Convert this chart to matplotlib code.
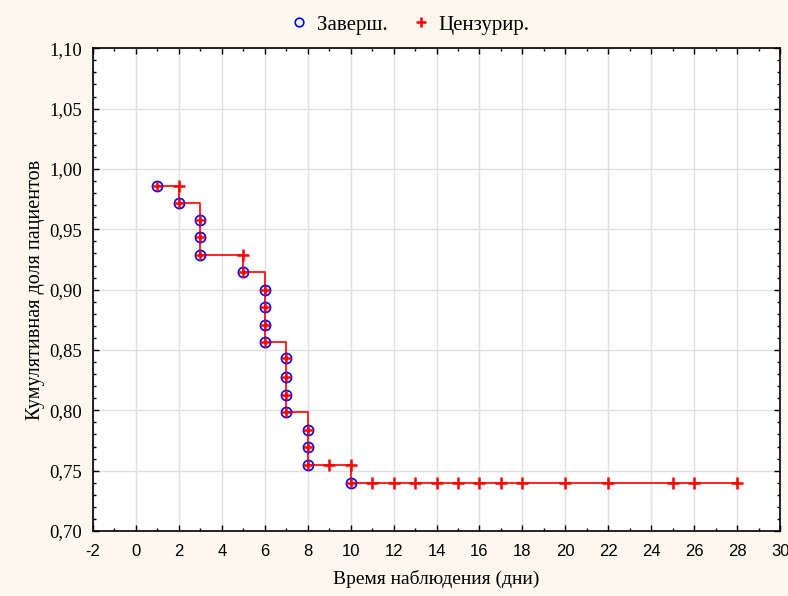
"""
Kaplan-Meier style cumulative proportion plot
"""
import numpy as np
import matplotlib
matplotlib.use('Agg')
import matplotlib.pyplot as plt
from matplotlib.ticker import MultipleLocator, FuncFormatter

# completed (event) observations
event_times = [1, 2, 3, 3, 3, 5, 6, 6, 6, 6, 7, 7, 7, 7, 8, 8, 8, 10]
event_surv = [0.986, 0.972, 0.958, 0.944, 0.929, 0.915,
              0.900, 0.886, 0.871, 0.857,
              0.843, 0.828, 0.813, 0.799,
              0.784, 0.770, 0.755, 0.740]

# censored observations
cens_times = [2, 5, 9, 10, 11, 12, 13, 14, 15, 16, 17, 18, 20, 22, 25, 26, 28]
cens_surv = [0.986, 0.929, 0.755, 0.755] + [0.740] * 13

# step curve
step_times = [1, 2, 3, 5, 6, 7, 8, 10, 28]
step_surv = [0.986, 0.972, 0.929, 0.915, 0.857, 0.799, 0.755, 0.740, 0.740]

bg = '#fdf8ee'
serif = 'Liberation Serif'
sans = 'Liberation Sans'
plt.rcParams['axes.unicode_minus'] = False

fig = plt.figure(figsize=(7.88, 5.96), dpi=100, facecolor=bg)
ax = fig.add_axes([0.118, 0.109, 0.872, 0.81])
ax.set_facecolor('white')

ax.step(step_times, step_surv, where='post', color='red', linewidth=1.2, zorder=3)
ax.plot(event_times, event_surv, linestyle='none', marker='o', markersize=7.3,
        markerfacecolor='none', markeredgecolor='blue', markeredgewidth=1.2,
        label='Заверш.', zorder=4)
ax.plot(event_times, event_surv, linestyle='none', marker='+', markersize=7,
        color='red', markeredgewidth=1.8, zorder=5)
ax.plot(cens_times, cens_surv, linestyle='none', marker='+', markersize=8,
        color='red', markeredgewidth=1.8, label='Цензурир.', zorder=5)

ax.set_xlim(-2, 30)
ax.set_ylim(0.70, 1.10)
ax.xaxis.set_major_locator(MultipleLocator(2))
ax.xaxis.set_minor_locator(MultipleLocator(1))
ax.yaxis.set_major_locator(MultipleLocator(0.05))
ax.yaxis.set_minor_locator(MultipleLocator(0.01))
ax.yaxis.set_major_formatter(FuncFormatter(lambda v, p: f'{v:.2f}'.replace('.', ',')))

ax.grid(True, which='major', color='#e0e0e0', linewidth=1)
ax.set_axisbelow(True)
ax.tick_params(which='both', direction='in', top=True, right=True)
ax.tick_params(which='major', length=4, width=1)
ax.tick_params(which='minor', length=2.5, width=1)
ax.tick_params(axis='x', pad=9)
ax.tick_params(axis='y', pad=8)
for s in ax.spines.values():
    s.set_color('black')
    s.set_linewidth(1.2)

for lab in ax.get_xticklabels():
    lab.set_family(sans)
    lab.set_fontsize(12)
for lab in ax.get_yticklabels():
    lab.set_family(serif)
    lab.set_fontsize(13.5)

ax.set_xlabel('Время наблюдения (дни)', family=serif, fontsize=14, labelpad=8)
ax.set_ylabel('Кумулятивная доля пациентов', family=serif, fontsize=14.5, labelpad=3)

ax.legend(loc='center', bbox_to_anchor=(409 / 788, 1 - 25 / 596), bbox_transform=fig.transFigure,
          ncol=2, frameon=False, prop={'family': serif, 'size': 15},
          handletextpad=0.35, columnspacing=1.1, handlelength=1.0, markerscale=0.85)

fig.savefig('out.png', dpi=100, facecolor=bg)
